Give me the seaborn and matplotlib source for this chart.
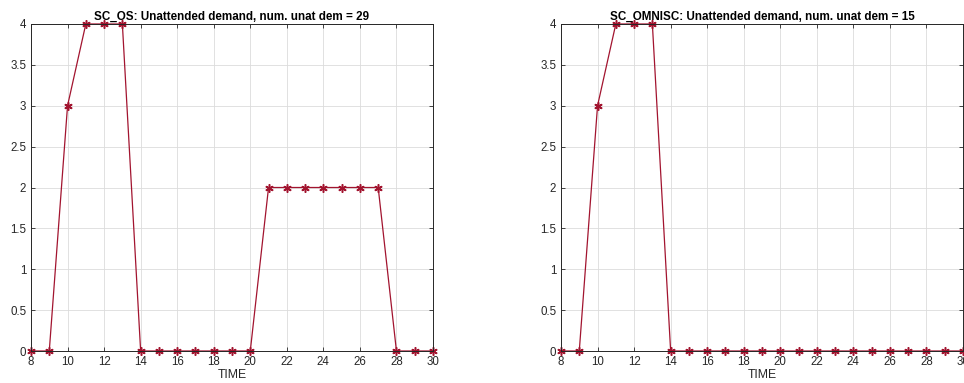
import matplotlib
matplotlib.use("Agg")
import matplotlib.pyplot as plt
import seaborn as sns
import numpy as np
import pandas as pd

time = list(range(8, 31))
sc_os = [0, 0, 3, 4, 4, 4, 0, 0, 0, 0, 0, 0, 0, 2, 2, 2, 2, 2, 2, 2, 0, 0, 0]
sc_omnisc = [0, 0, 3, 4, 4, 4, 0, 0, 0, 0, 0, 0, 0, 0, 0, 0, 0, 0, 0, 0, 0, 0, 0]
titles = ["SC_OS: Unattended demand, num. unat dem = 29",
          "SC_OMNISC: Unattended demand, num. unat dem = 15"]
xticks = list(range(8, 31, 2))
yticks = [0, 0.5, 1, 1.5, 2, 2.5, 3, 3.5, 4]
ytick_labels = ["0", "0.5", "1", "1.5", "2", "2.5", "3", "3.5", "4"]

sns.set_theme(style="white")
plt.rcParams['font.family'] = ['Liberation Sans', 'DejaVu Sans']

color = "#A2142F"
fig = plt.figure(figsize=(9.64, 3.83), dpi=100)
ax1 = fig.add_axes([31/964, 32/383, 402/964, 327/383])
ax2 = fig.add_axes([561/964, 32/383, 402/964, 327/383])

for ax, vals, title in zip([ax1, ax2], [sc_os, sc_omnisc], titles):
    df = pd.DataFrame({"TIME": time, "val": vals})
    sns.lineplot(data=df, x="TIME", y="val", ax=ax, color=color, marker=(6, 2, 0),
                 markersize=6, markeredgecolor=color, markeredgewidth=1.1,
                 linewidth=0.9, clip_on=False)
    ax.set_xlim(8, 30)
    ax.set_ylim(0, 4)
    ax.set_xticks(xticks)
    ax.set_xticklabels([str(t) for t in xticks], fontsize=8.3, color="#262626")
    ax.set_yticks(yticks)
    ax.set_yticklabels(ytick_labels, fontsize=8.3, color="#262626")
    ax.tick_params(direction="in", length=3, width=0.6, color="#262626", pad=3.5,
                   top=True, right=True, bottom=True, left=True)
    ax.grid(True, color="#dcdcdc", linewidth=0.6)
    ax.set_axisbelow(True)
    for s in ax.spines.values():
        s.set_color("#262626")
        s.set_linewidth(0.7)
    ax.set_xlabel("TIME", fontsize=8.8, color="#262626", labelpad=1)
    ax.set_ylabel("")
    ax.set_title(title, fontsize=8.4, fontweight="bold", color="#000000", pad=3)

fig.savefig("out.png", dpi=100)
